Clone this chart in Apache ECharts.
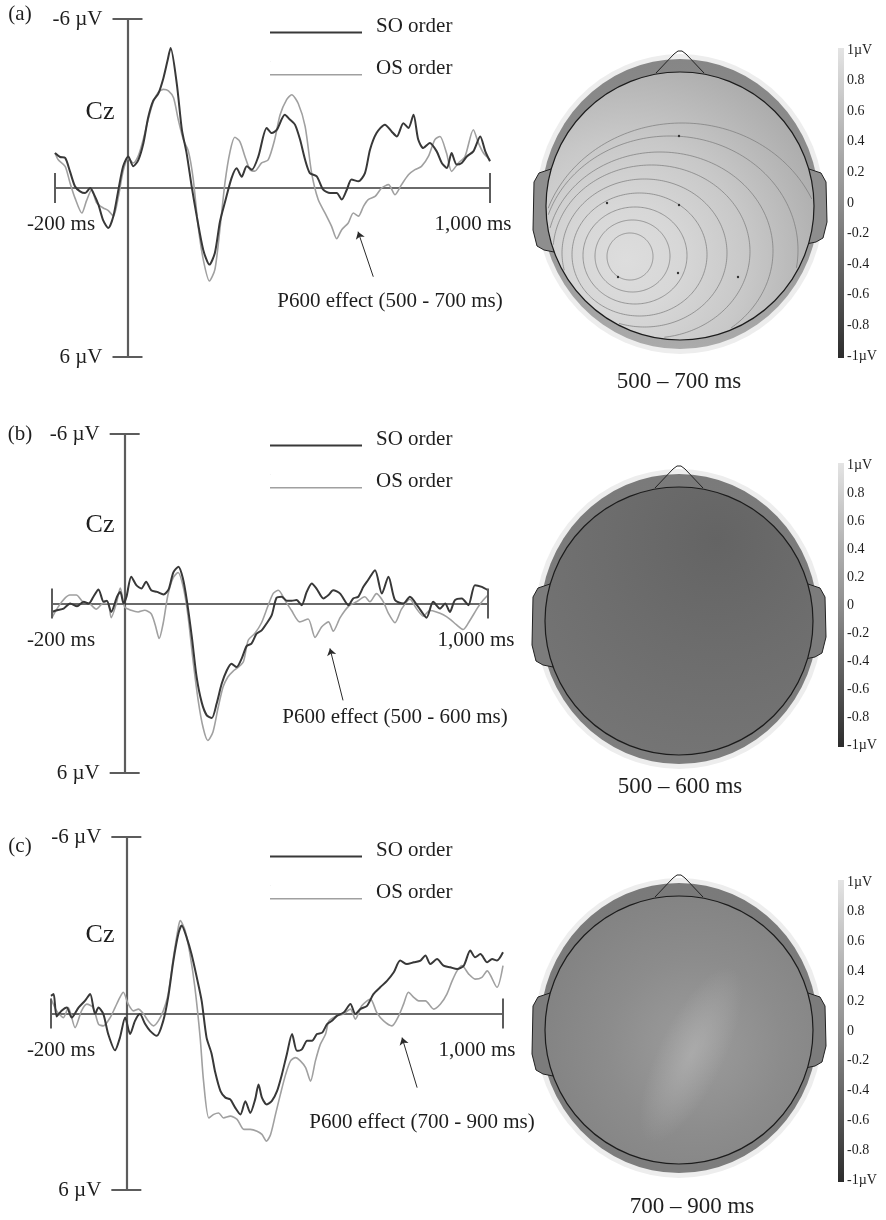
<!DOCTYPE html>
<html>
<head>
<meta charset="utf-8">
<style>
  html, body { margin: 0; padding: 0; background: #fff; }
  #chart { width: 886px; height: 1220px; }
</style>
<script src="https://cdn.jsdelivr.net/npm/echarts@6.0.0/dist/echarts.min.js"></script>
</head>
<body>
<div id="chart"></div>
<script>
// ---- Cz grand averages, [time in ms, amplitude in µV] ----
const soA = [[-200,-1.24],[-186,-1.1],[-172,-1.07],[-159,-0.6],[-145,-0.06],[-131,0.12],[-117,0.18],[-103,0],[-94,0.18],[-80,0.6],[-67,1.15],[-53,1.42],[-39,1],[-25,0.06],[-12,-0.77],[2,-1.12],[16,-0.77],[30,-1],[44,-1.6],[57,-2.5],[71,-3.1],[85,-3.35],[99,-3.9],[110,-4.5],[119,-4.97],[136,-3.7],[150,-2.07],[163,-1.24],[177,-0.06],[191,1],[209,2.2],[226,2.72],[241,2.31],[255,1.2],[269,0.5],[287,-0.35],[301,-0.7],[315,-0.4],[329,-0.77],[343,-0.65],[361,-1.12],[384,-2.13],[398,-1.95],[412,-2.07],[434,-2.6],[448,-2.43],[462,-2.25],[476,-1.72],[490,-1],[503,-0.53],[522,-0.41],[540,0.06],[559,0.18],[577,0.18],[591,0.41],[605,0.06],[618,-0.3],[637,-0.24],[655,-0.53],[669,-1.36],[687,-1.95],[710,-2.25],[729,-2],[743,-1.83],[761,-2.3],[775,-2.13],[789,-2.6],[802,-1.72],[816,-1.42],[834,-1.6],[853,-1.3],[867,-0.89],[881,-0.71],[894,-1.24],[908,-0.83],[922,-0.89],[936,-1.12],[954,-1.3],[973,-1.83],[987,-1.3],[1000,-0.95]];
const osA = [[-200,-1.24],[-191,-1],[-172,-0.77],[-159,-0.2],[-145,0.35],[-126,0.89],[-113,0.45],[-99,0.06],[-85,0.53],[-67,0.71],[-53,0.8],[-39,1],[-25,0.3],[-12,-0.6],[2,-1.05],[16,-0.89],[30,-1.15],[44,-1.75],[57,-2.43],[71,-3.05],[85,-3.4],[99,-3.5],[113,-3.45],[127,-3.2],[140,-2.43],[154,-1.72],[168,-1.3],[181,-0.35],[195,1.36],[209,2.54],[226,3.3],[241,2.9],[255,1.45],[269,-0.2],[283,-1.3],[296,-1.8],[310,-1.65],[324,-1.12],[338,-0.65],[351,-0.6],[370,-0.89],[388,-1],[406,-1.72],[421,-2.6],[439,-3.14],[453,-3.31],[471,-3],[490,-2.19],[508,-0.53],[526,0.41],[545,0.89],[563,1.36],[577,1.8],[591,1.48],[609,1.24],[623,0.89],[637,1],[651,0.65],[664,0.41],[683,0.3],[701,0],[720,-0.12],[738,0.24],[756,-0.12],[775,-0.47],[793,-0.65],[811,-0.77],[830,-1.12],[848,-1.72],[862,-1.83],[880,-1.24],[894,-0.59],[913,-0.89],[931,-1.12],[954,-2.07],[968,-1.6],[982,-1.24],[1000,-1]];

const soB = [[-200,0.3],[-186,0.24],[-168,0.18],[-150,0],[-131,0.1],[-113,-0.06],[-99,0],[-86,-0.24],[-72,-0.5],[-58,-0.06],[-49,-0.1],[-37,0.3],[-21,-0.24],[-12,-0.41],[-3,0],[5,-0.24],[18,-0.95],[32,-0.65],[46,-0.53],[59,-0.77],[73,-0.47],[89,-0.41],[107,-0.32],[121,-0.5],[134,-1.1],[148,-1.3],[160,-0.9],[171,-0.12],[185,1.2],[198,2.6],[212,3.5],[226,3.96],[240,4.05],[253,3.55],[267,2.84],[281,2.37],[294,2.13],[308,2.25],[322,1.95],[336,1.5],[349,1.42],[363,1.07],[377,0.95],[391,0.7],[405,0.4],[418,-0.2],[432,-0.24],[446,-0.1],[460,-0.1],[473,-0.12],[487,0.06],[501,-0.41],[515,-0.71],[528,-0.53],[547,-0.18],[561,-0.3],[574,-0.47],[593,-0.35],[616,0.06],[629,-0.18],[643,-0.24],[657,-0.59],[670,-0.83],[689,-1.18],[708,-0.35],[726,-0.95],[744,-0.12],[767,0],[785,-0.24],[808,0.12],[831,0.5],[849,-0.06],[868,0.18],[882,0],[895,0.3],[909,-0.12],[928,-0.18],[946,0.06],[964,-0.65],[983,-0.59],[1000,-0.47]];
const osB = [[-200,0.5],[-183,0.12],[-165,-0.18],[-151,-0.3],[-133,-0.3],[-115,-0.06],[-97,0],[-78,0.2],[-60,0],[-46,0],[-37,0.5],[-23,0],[-12,-0.55],[0,0.12],[18,0.24],[37,0.3],[55,0.24],[73,0.36],[84,0.75],[95,1.24],[106,0.7],[119,-0.3],[133,-0.9],[147,-1.1],[161,-0.6],[174,0.4],[188,2],[202,3.4],[216,4.4],[229,4.85],[243,4.55],[257,3.7],[271,2.95],[284,2.6],[298,2.4],[313,2.25],[327,2.05],[340,1.3],[358,1.06],[376,0.7],[394,0.1],[409,-0.36],[423,-0.47],[441,-0.12],[459,0.24],[482,0.65],[505,0.55],[524,1.2],[542,0.83],[561,0.65],[574,0.98],[593,0.5],[616,0.1],[638,-0.06],[661,-0.24],[675,-0.06],[693,-0.35],[712,-0.06],[726,0.35],[744,0.68],[762,0.2],[785,-0.15],[803,0.18],[822,0.45],[840,0.25],[858,0.3],[877,0.4],[895,0.55],[913,0.75],[932,0.92],[950,0.6],[973,0.12],[987,-0.12],[1000,-0.3]];

const soC = [[-200,-0.6],[-193,-0.66],[-185,0.1],[-172,-0.09],[-158,-0.2],[-145,0.14],[-127,-0.2],[-110,-0.43],[-96,-0.66],[-83,0.02],[-74,-0.2],[-61,0.02],[-48,0.7],[-30,1.25],[-17,0.82],[-3,0.14],[10,0.7],[23,0.25],[36,0.02],[50,0.36],[63,0.59],[81,0.76],[98,0.25],[111,-0.55],[125,-1.8],[138,-2.7],[147,-2.99],[160,-2.59],[173,-2.02],[187,-1.23],[200,-0.43],[213,0.82],[226,1.35],[236,2],[250,2.64],[263,2.86],[276,2.92],[289,3.2],[303,3.43],[316,2.98],[329,3.38],[342,2.92],[351,2.41],[360,2.86],[373,3.09],[386,2.98],[400,2.64],[413,2.07],[426,1.39],[440,0.7],[453,1.27],[466,1.22],[480,0.93],[493,0.93],[506,0.7],[520,0.65],[533,0.36],[546,0.25],[559,0.08],[577,-0.03],[595,-0.32],[608,0.02],[621,-0.15],[639,-0.26],[656,-0.66],[674,-0.89],[692,-1.11],[710,-1.4],[727,-1.8],[745,-1.68],[763,-1.74],[781,-1.8],[794,-1.97],[807,-1.68],[825,-1.85],[842,-1.63],[860,-1.57],[878,-1.51],[896,-1.63],[913,-2.14],[926,-1.91],[940,-2.02],[958,-1.74],[971,-1.85],[984,-1.8],[1000,-2.08]];
const osC = [[-200,-0.5],[-185,-0.09],[-167,0.14],[-154,-0.2],[-136,0.48],[-119,-0.09],[-105,-0.32],[-88,-0.2],[-74,0.36],[-61,0.42],[-43,0.14],[-30,-0.2],[-17,-0.55],[-8,-0.72],[5,-0.32],[19,-0.09],[32,-0.15],[45,0],[58,0.25],[72,0.42],[85,0.25],[98,-0.09],[111,-0.66],[125,-1.91],[138,-2.93],[143,-3.16],[156,-2.82],[169,-2.02],[182,-0.89],[196,0.82],[205,2.3],[219,3.55],[232,3.43],[245,3.38],[258,3.55],[276,3.49],[294,3.6],[312,3.94],[329,3.94],[347,4],[360,4.11],[372,4.34],[383,4.11],[396,3.43],[409,2.75],[423,2.07],[436,1.61],[449,1.5],[462,1.61],[476,1.84],[489,2.3],[502,1.61],[515,1.05],[529,0.7],[538,0.25],[559,0.08],[576,0.02],[595,-0.15],[608,0.19],[625,-0.26],[648,-0.49],[665,-0.03],[683,0.25],[705,0.42],[723,0.08],[736,-0.32],[749,-0.72],[763,-0.55],[776,-0.43],[794,-0.43],[816,-0.15],[834,-0.32],[851,-0.66],[865,-1.11],[878,-1.45],[891,-1.63],[909,-1.34],[926,-1.17],[944,-1.23],[958,-1.45],[984,-0.89],[1000,-1.63]];

// ---- labels and ticks ----
const seriesNames = ['SO order', 'OS order'];
const xTicks = [-200, 1000];
const xTickText = ['-200 ms', '1,000 ms'];
const yTicks = [-6, 6];
const yTickText = ['-6 µV', '6 µV'];
const panelTags = ['(a)', '(b)', '(c)'];
const channelName = 'Cz';
const effectText = ['P600 effect (500 - 700 ms)', 'P600 effect (500 - 600 ms)', 'P600 effect (700 - 900 ms)'];
const mapWindows = ['500 – 700 ms', '500 – 600 ms', '700 – 900 ms'];
const barTicks = [1, 0.8, 0.6, 0.4, 0.2, 0, -0.2, -0.4, -0.6, -0.8, -1];
const barTickText = ['1µV', '0.8', '0.6', '0.4', '0.2', '0', '-0.2', '-0.4', '-0.6', '-0.8', '-1µV'];
// arrow from the effect caption up to the OS deflection: [ms, µV] start -> end
const effectArrows = [
  [[678, 3.15], [636, 1.55]],
  [[601, 3.43], [565, 1.59]],
  [[772, 2.52], [732, 0.82]]
];

const FONT = '"Liberation Serif", "Times New Roman", serif';
const SO_COLOR = '#383838';
const OS_COLOR = '#a0a0a0';

// ---- page layout, one entry per row ----
const layout = [
  { grid: { left: 55, top: 19, width: 435, height: 338 }, legendTop: 11, xPad: [12, 34],
    tag: [20, 14], cz: [100, 112], effect: [390, 301], head: [680, 206], mapLabel: [679, 382],
    bar: { top: 50, height: 306 } },
  { grid: { left: 52, top: 434, width: 436, height: 339 }, legendTop: 424, xPad: [18, 24],
    tag: [20, 434], cz: [100, 525], effect: [395, 717], head: [679, 621], mapLabel: [680, 787],
    bar: { top: 465, height: 280 } },
  { grid: { left: 51, top: 837, width: 452, height: 353 }, legendTop: 835, xPad: [20, 52],
    tag: [20, 846], cz: [100, 935], effect: [422, 1122], head: [679, 1030], mapLabel: [692, 1207],
    bar: { top: 882, height: 298 } }
];
const waves = [[soA, osA], [soB, osB], [soC, osC]];

// ---- scalp map shading per row ----
const radial = (x, y, r, stops) => ({ type: 'radial', x, y, r,
  colorStops: stops.map(([o, c]) => ({ offset: o, color: c })) });
const linear = (stops) => ({ type: 'linear', x: 0, y: 0, x2: 0, y2: 1,
  colorStops: stops.map(([o, c]) => ({ offset: o, color: c })) });

const looks = [
  { ring: linear([[0, '#868686'], [0.5, '#909090'], [1, '#ababab']]), ear: '#8e8e8e',
    inner: radial(0.3, 0.7, 1.0, [[0, '#dddddd'], [0.2, '#d7d7d7'], [0.45, '#c8c8c8'], [0.7, '#b3b3b3'], [1, '#9a9a9a']]),
    contours: [
      [-50, 50.5, 23, 23.5], [-47.5, 50, 37.5, 36], [-45, 49.5, 52, 48.5], [-40.5, 48.5, 67.5, 61.5],
      [-35.5, 47, 82.5, 74], [-28.5, 45.5, 98.5, 86.5], [-20, 45, 113, 99], [-10, 44, 128, 114],
      [2, 45, 142, 128]
    ],
    dots: [[-73, -3], [-1, -1], [-1, -70], [-62, 71], [-2, 67], [58, 71]] },
  { ring: linear([[0, '#7a7a7a'], [1, '#7e7e7e']]), ear: '#7c7c7c',
    inner: radial(0.64, 0.2, 0.95, [[0, '#646464'], [0.45, '#6d6d6d'], [1, '#777777']]),
    contours: [], dots: [] },
  { ring: linear([[0, '#7a7a7a'], [1, '#7d7d7d']]), ear: '#7c7c7c',
    inner: radial(0.56, 0.56, 0.72, [[0, '#9c9c9c'], [0.45, '#8c8c8c'], [1, '#7e7e7e']]),
    contours: [], dots: [], band: true }
];

function contourSegments(cx, cy, c, limit) {
  const [dx, dy, rx, ry] = c;
  const N = 240, pts = [];
  for (let k = 0; k < N; k++) {
    const a = 2 * Math.PI * k / N;
    const x = cx + dx + rx * Math.cos(a), y = cy + dy + ry * Math.sin(a);
    pts.push([x, y, Math.hypot(x - cx, y - cy) < limit]);
  }
  const s = pts.findIndex(p => !p[2]);
  if (s < 0) return [pts.map(p => [p[0], p[1]]).concat([[pts[0][0], pts[0][1]]])];
  const segs = [];
  let cur = [];
  for (let k = 0; k <= N; k++) {
    const p = pts[(s + k) % N];
    if (p[2]) cur.push([p[0], p[1]]);
    else { if (cur.length > 1) segs.push(cur); cur = []; }
  }
  if (cur.length > 1) segs.push(cur);
  return segs;
}

function headElements(L, look) {
  const [cx, cy] = L.head;
  const r = 134;
  const els = [];
  // soft halo and outer band
  els.push({ type: 'circle', shape: { cx, cy: cy - 2, r: 144 }, originX: cx, originY: cy - 2,
    scaleY: 150 / 144, style: { fill: '#ededed' }, z: 1 });
  els.push({ type: 'circle', shape: { cx, cy: cy - 2, r: 139 }, originX: cx, originY: cy - 2,
    scaleY: 145 / 139, style: { fill: look.ring }, z: 3 });
  // nose
  els.push({ type: 'polyline', shape: { points: [[cx - 24, cy - 133], [cx - 6, cy - 152], [cx - 2, cy - 155], [cx + 2, cy - 155], [cx + 6, cy - 152], [cx + 24, cy - 133]] },
    style: { fill: null, stroke: '#222', lineWidth: 1 }, z: 4 });
  // ears, closed inside the scalp outline
  const ear = (sgn, bottom) => ({ type: 'polygon', shape: { points: [
      [cx + sgn * 126, cy - 38], [cx + sgn * 132, cy - 36], [cx + sgn * 141, cy - 33], [cx + sgn * 146, cy - 24],
      [cx + sgn * 147, cy + bottom - 20], [cx + sgn * 143, cy + bottom - 4], [cx + sgn * 136, cy + bottom],
      [cx + sgn * 126, cy + bottom + 2]] },
    style: { fill: look.ear, stroke: '#222', lineWidth: 1 }, z: 4 });
  els.push(ear(-1, 44), ear(1, 36));
  // scalp
  els.push({ type: 'circle', shape: { cx, cy, r }, style: { fill: look.inner, stroke: '#1c1c1c', lineWidth: 1.2 }, z: 5 });
  if (look.band) {
    els.push({ type: 'circle', shape: { cx: cx + 12, cy: cy + 25, r: 60 }, originX: cx + 12, originY: cy + 25,
      scaleX: 0.55, scaleY: 1.6, rotation: -0.45,
      style: { fill: radial(0.5, 0.5, 0.5, [[0, 'rgba(175,175,175,0.75)'], [1, 'rgba(175,175,175,0)']]) }, z: 6 });
  }
  look.contours.forEach(c => {
    contourSegments(cx, cy, c, r - 1.5).forEach(seg => {
      els.push({ type: 'polyline', shape: { points: seg, smooth: 0 },
        style: { stroke: '#7a7a7a', lineWidth: 0.7, fill: null }, z: 7 });
    });
  });
  look.dots.forEach(([dx, dy]) => {
    els.push({ type: 'circle', shape: { cx: cx + dx, cy: cy + dy, r: 1.2 }, style: { fill: '#333' }, z: 8 });
  });
  return els;
}

function textEl(x, y, str, size, align) {
  return { type: 'text', x, y, z: 20,
    style: { text: str, fontFamily: FONT, fontSize: size, fill: '#1e1e1e',
             align: align || 'center', verticalAlign: 'middle' } };
}

// ---- build option ----
const grids = [], xAxes = [], yAxes = [], series = [], legends = [], graphics = [];

layout.forEach((L, i) => {
  grids.push(Object.assign({ outerBoundsMode: 'none', containLabel: false }, L.grid));
  // axes cross at (0 ms, 0 µV); offsets move each axis from the grid edge onto that origin
  xAxes.push({
    gridIndex: i, type: 'value', min: -200, max: 1000, position: 'bottom',
    offset: -L.grid.height / 2,
    axisLine: { onZero: false, lineStyle: { color: '#3a3a3a', width: 1.6 } },
    axisTick: { show: false },
    splitLine: { show: false },
    axisLabel: {
      customValues: xTicks, margin: 26, fontFamily: FONT, fontSize: 21, color: '#1e1e1e',
      formatter: v => (v === xTicks[0] ? '{l|' : '{r|') + xTickText[xTicks.indexOf(v)] + '}',
      rich: {
        l: { fontFamily: FONT, fontSize: 21, color: '#1e1e1e', padding: [0, 0, 0, L.xPad[0]] },
        r: { fontFamily: FONT, fontSize: 21, color: '#1e1e1e', padding: [0, L.xPad[1], 0, 0] }
      }
    }
  });
  yAxes.push({
    gridIndex: i, type: 'value', min: -6, max: 6, inverse: true, position: 'left',
    offset: -L.grid.width / 6,
    axisLine: { onZero: false, lineStyle: { color: '#5c5c5c', width: 2.2 } },
    axisTick: { show: false },
    splitLine: { show: false },
    axisLabel: {
      customValues: yTicks, margin: 25, fontFamily: FONT, fontSize: 21, color: '#1e1e1e',
      formatter: v => yTickText[yTicks.indexOf(v)]
    }
  });

  const [so, os] = waves[i];
  series.push({
    type: 'line', name: seriesNames[1], xAxisIndex: i, yAxisIndex: i, data: os,
    symbol: 'none', smooth: 0.25, z: 3,
    lineStyle: { color: OS_COLOR, width: 1.6 }, itemStyle: { color: OS_COLOR },
    markLine: {
      silent: true, symbol: ['none', 'arrow'], symbolSize: 7, animation: false,
      lineStyle: { color: '#2a2a2a', width: 1, type: 'solid' },
      label: { show: false },
      data: [[{ coord: effectArrows[i][0] }, { coord: effectArrows[i][1] }]]
    }
  });
  series.push({
    type: 'line', name: seriesNames[0], xAxisIndex: i, yAxisIndex: i, data: so,
    symbol: 'none', smooth: 0.25, z: 4,
    lineStyle: { color: SO_COLOR, width: 2 }, itemStyle: { color: SO_COLOR }
  });
  // cross ticks at the ends of both axes
  series.push({
    type: 'custom', xAxisIndex: i, yAxisIndex: i, silent: true, z: 5,
    data: xTicks.map(t => [t, 0, 0]).concat(yTicks.map(v => [0, v, 1])),
    renderItem: (params, api) => {
      const p = api.coord([api.value(0), api.value(1)]);
      const horiz = api.value(2) === 1;
      return { type: 'line',
        shape: horiz ? { x1: p[0] - 15, y1: p[1], x2: p[0] + 15, y2: p[1] }
                     : { x1: p[0], y1: p[1] - 15, x2: p[0], y2: p[1] + 15 },
        style: { stroke: '#5c5c5c', lineWidth: 2 } };
    }
  });

  // legend keys: a 92px stroke, set a little below the text, followed by a clear gap
  legends.push({
    orient: 'vertical', left: 265, top: L.legendTop, itemWidth: 101, itemHeight: 14.2, itemGap: 21,
    selectedMode: false,
    data: [{ name: seriesNames[0], icon: 'path://M0,0H0.5V0.05H0ZM100.5,0H101V0.05H100.5ZM0,12H92V14.2H0Z' },
           { name: seriesNames[1], icon: 'path://M0,0H0.5V0.05H0ZM100.5,0H101V0.05H100.5ZM0,12.4H92V13.8H0Z' }],
    textStyle: { fontFamily: FONT, fontSize: 21, color: '#1e1e1e' }
  });

  graphics.push(...headElements(L, looks[i]));
  graphics.push(textEl(L.tag[0], L.tag[1], panelTags[i], 21));
  graphics.push(textEl(L.cz[0], L.cz[1], channelName, 26));
  graphics.push(textEl(L.effect[0], L.effect[1], effectText[i], 21));
  graphics.push(textEl(L.mapLabel[0], L.mapLabel[1], mapWindows[i], 23));
});

// colour scales beside each scalp map
const barFill = linear([[0, '#e4e4e4'], [0.5, '#8e8e8e'], [1, '#2c2c2c']]);
layout.forEach((L, i) => {
  const g = 3 + i;
  grids.push({ left: 838, width: 6, top: L.bar.top, height: L.bar.height, outerBoundsMode: 'none', containLabel: false });
  xAxes.push({ gridIndex: g, type: 'value', min: 0, max: 1, show: false });
  yAxes.push({
    gridIndex: g, type: 'value', min: -1, max: 1, position: 'right',
    axisLine: { show: false }, axisTick: { show: false }, splitLine: { show: false },
    axisLabel: { customValues: barTicks, margin: 3, fontFamily: FONT, fontSize: 14, color: '#1e1e1e',
      formatter: v => barTickText[barTicks.indexOf(v)] }
  });
  series.push({
    type: 'custom', xAxisIndex: g, yAxisIndex: g, silent: true,
    data: [[0, -1, 1]],
    renderItem: (params, api) => {
      const top = api.coord([0, api.value(2)]);
      const bot = api.coord([1, api.value(1)]);
      return { type: 'rect',
        shape: { x: top[0], y: top[1] - 2, width: bot[0] - top[0], height: bot[1] - top[1] + 4 },
        style: { fill: barFill } };
    }
  });
});

const chart = echarts.init(document.getElementById('chart'), null, { renderer: 'canvas' });
chart.setOption({
  animation: false,
  backgroundColor: '#ffffff',
  grid: grids,
  xAxis: xAxes,
  yAxis: yAxes,
  legend: legends,
  series: series,
  graphic: { elements: graphics }
});
</script>
</body>
</html>
